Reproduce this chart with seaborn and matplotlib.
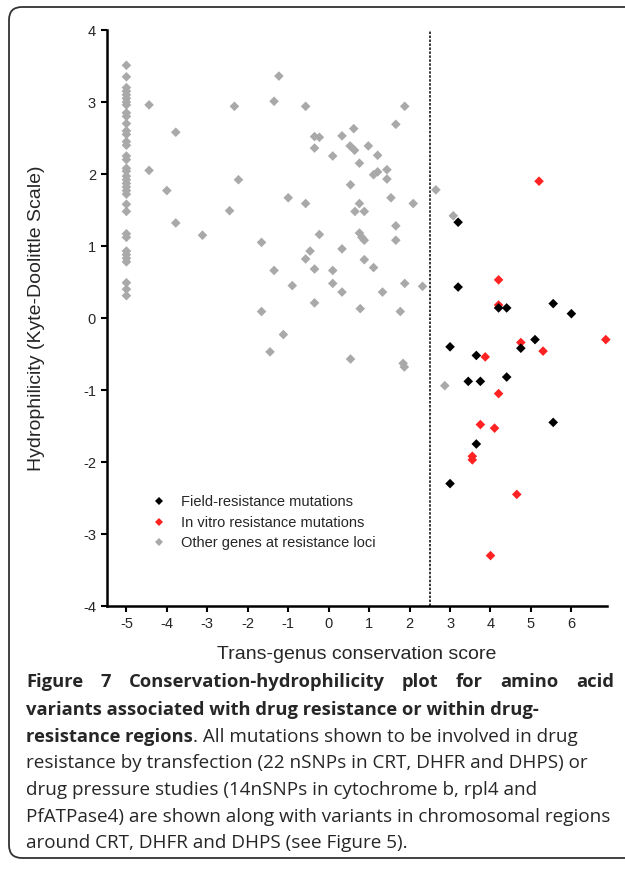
import matplotlib.pyplot as plt
import seaborn as sns
import pandas as pd
from matplotlib.patches import FancyBboxPatch
from matplotlib.transforms import IdentityTransform

# field-resistance mutations (black)
field_x = [3.2, 3.2, 4.2, 4.4, 5.55, 6.0, 3.0, 5.1, 4.75, 3.65, 3.45, 3.75, 4.4, 5.55, 3.65, 3.0]
field_y = [1.33, 0.43, 0.14, 0.14, 0.2, 0.06, -0.4, -0.3, -0.42, -0.52, -0.88, -0.88, -0.82, -1.45, -1.75, -2.3]

# in vitro resistance mutations (red)
vitro_x = [5.2, 4.2, 4.2, 6.85, 4.75, 5.3, 3.87, 4.2, 3.75, 4.1, 3.55, 3.55, 4.65, 4.0]
vitro_y = [1.9, 0.53, 0.18, -0.3, -0.34, -0.46, -0.54, -1.05, -1.48, -1.53, -1.92, -1.97, -2.45, -3.3]

# other genes at resistance loci (grey) - the column at score -5
col_x = [-5, -5, -5, -5, -5, -5, -5, -5, -5, -5, -5, -5, -5, -5, -5, -5, -5, -5,
         -5, -5, -5, -5, -5, -5, -5, -5, -5, -5, -5, -5, -5, -5, -5, -5, -5, -5]
col_y = [3.51, 3.35, 3.2, 3.15, 3.1, 3.05, 3.0, 2.96, 2.85, 2.8, 2.7, 2.6, 2.55, 2.45,
         2.4, 2.25, 2.2, 2.08, 2.04, 1.97, 1.92, 1.87, 1.82, 1.77, 1.72, 1.58, 1.48,
         1.17, 1.12, 0.93, 0.88, 0.83, 0.78, 0.49, 0.4, 0.31]

# other genes, the rest
other_x = [-4.44, -4.44, -4.0, -3.78, -3.78, -3.12, -2.33, -2.23, -2.45, -1.66, -1.66, -1.45,
           -1.35, -1.23, -1.35, -1.12, -1.0, -0.9, -0.57, -0.57, -0.57, -0.46, -0.35, -0.35,
           -0.35, -0.23, -0.35, -0.23, 0.1, 0.1, 0.1, 0.33, 0.33, 0.33, 0.53, 0.64, 0.62, 0.54,
           0.54, 0.76, 0.76, 0.65, 0.88, 0.76, 0.82, 0.88, 0.88, 0.78, 0.98, 1.11, 1.11, 1.21,
           1.21, 1.33, 1.44, 1.44, 1.54, 1.66, 1.66, 1.66, 1.77, 1.84, 1.87, 1.88, 1.88, 2.09,
           2.32, 2.65, 3.08, 2.87]
other_y = [2.96, 2.05, 1.77, 2.58, 1.32, 1.15, 2.94, 1.92, 1.49, 1.05, 0.09, -0.47,
           3.01, 3.36, 0.66, -0.23, 1.67, 0.45, 2.94, 1.59, 0.82, 0.93, 0.68, 0.21,
           2.52, 2.51, 2.36, 1.16, 2.25, 0.66, 0.48, 2.53, 0.96, 0.36, 2.39, 2.33, 2.63, 1.85,
           -0.57, 2.15, 1.59, 1.48, 1.48, 1.18, 1.12, 1.08, 0.81, 0.13, 2.39, 1.99, 0.70, 2.26,
           2.03, 0.36, 2.06, 1.93, 1.67, 2.69, 1.28, 1.08, 0.09, -0.63, -0.68, 2.94, 0.48, 1.59,
           0.44, 1.78, 1.42, -0.94]

groups = ['Field-resistance mutations', 'In vitro resistance mutations',
          'Other genes at resistance loci']
colors = ['black', '#ff2222', '#a9a9a9']

xticks = [-5, -4, -3, -2, -1, 0, 1, 2, 3, 4, 5, 6]
yticks = [-4, -3, -2, -1, 0, 1, 2, 3, 4]

# grey drawn first, then red, black on top
df = pd.concat([
    pd.DataFrame({'x': col_x + other_x, 'y': col_y + other_y, 'g': groups[2]}),
    pd.DataFrame({'x': vitro_x, 'y': vitro_y, 'g': groups[1]}),
    pd.DataFrame({'x': field_x, 'y': field_y, 'g': groups[0]}),
], ignore_index=True)

sns.set_style('ticks')
plt.rcParams['font.family'] = ['Liberation Sans', 'DejaVu Sans']
plt.rcParams['axes.unicode_minus'] = False

fig = plt.figure(figsize=(6.25, 8.69), dpi=100)
ax = fig.add_axes([107 / 625, 1 - 606 / 869, 500 / 625, 576 / 869])

sns.scatterplot(data=df, x='x', y='y', hue='g', hue_order=groups,
                palette=dict(zip(groups, colors)), marker='D', s=24,
                linewidth=0, clip_on=False, ax=ax)

ax.axvline(2.5, color='black', lw=1.1, ls=(0, (1.6, 1.0)))

ax.set_xlim(-5.48, 6.88)
ax.set_ylim(-4, 4)
ax.set_xticks(xticks)
ax.set_yticks(yticks)
ax.tick_params(labelsize=10.5, width=1.5, length=4.5, direction='out', color='black')
for s in ['left', 'bottom']:
    ax.spines[s].set_linewidth(1.8)
    ax.spines[s].set_color('black')
sns.despine(ax=ax)

ax.set_xlabel('Trans-genus conservation score', fontsize=14)
ax.set_ylabel('Hydrophilicity (Kyte-Doolittle Scale)', fontsize=14)
ax.xaxis.set_label_coords(0.5, -0.07)
ax.yaxis.set_label_coords(-0.124, 0.5)

sns.move_legend(ax, 'upper left', bbox_to_anchor=(0.048, 0.215), frameon=False,
                title=None, fontsize=10.5, handletextpad=0.5, labelspacing=0.45,
                markerscale=0.75)

# caption
cap = ['Open Sans', 'DejaVu Sans']
r = fig.canvas.get_renderer()
W = 625.0
x0 = 26 / W
fs_b = 13.2
fs_n = 13.6


def yb(px):
    return 1 - px / 869.0


# first line is justified across the box
words = 'Figure 7 Conservation-hydrophilicity plot for amino acid'.split()
arts = [fig.text(0, yb(687), w, family=cap, fontsize=fs_b, weight='bold') for w in words]
widths = [a.get_window_extent(r).width for a in arts]
gap = ((614 - 26) - sum(widths)) / (len(words) - 1)
pos = 26.0
for a, w in zip(arts, widths):
    a.set_x(pos / W)
    pos += w + gap

fig.text(x0, yb(715), 'variants associated with drug resistance or within drug-',
         family=cap, fontsize=fs_b, weight='bold')
t = fig.text(x0, yb(742), 'resistance regions', family=cap, fontsize=fs_b, weight='bold')
tw = t.get_window_extent(r).width
fig.text(x0 + tw / W, yb(742), '. All mutations shown to be involved in drug',
         family=cap, fontsize=fs_n)
rest = ['resistance by transfection (22 nSNPs in CRT, DHFR and DHPS) or',
        'drug pressure studies (14nSNPs in cytochrome b, rpl4 and',
        'PfATPase4) are shown along with variants in chromosomal regions',
        'around CRT, DHFR and DHPS (see Figure 5).']
for line, b in zip(rest, [768, 795, 822, 848]):
    fig.text(x0, yb(b), line, family=cap, fontsize=fs_n)

box = FancyBboxPatch((9, 11), 650, 851, boxstyle='round,pad=0,rounding_size=13',
                     transform=IdentityTransform(), fill=False, lw=1.3, ec='#333333')
fig.add_artist(box)

fig.savefig('out.png', dpi=100)
